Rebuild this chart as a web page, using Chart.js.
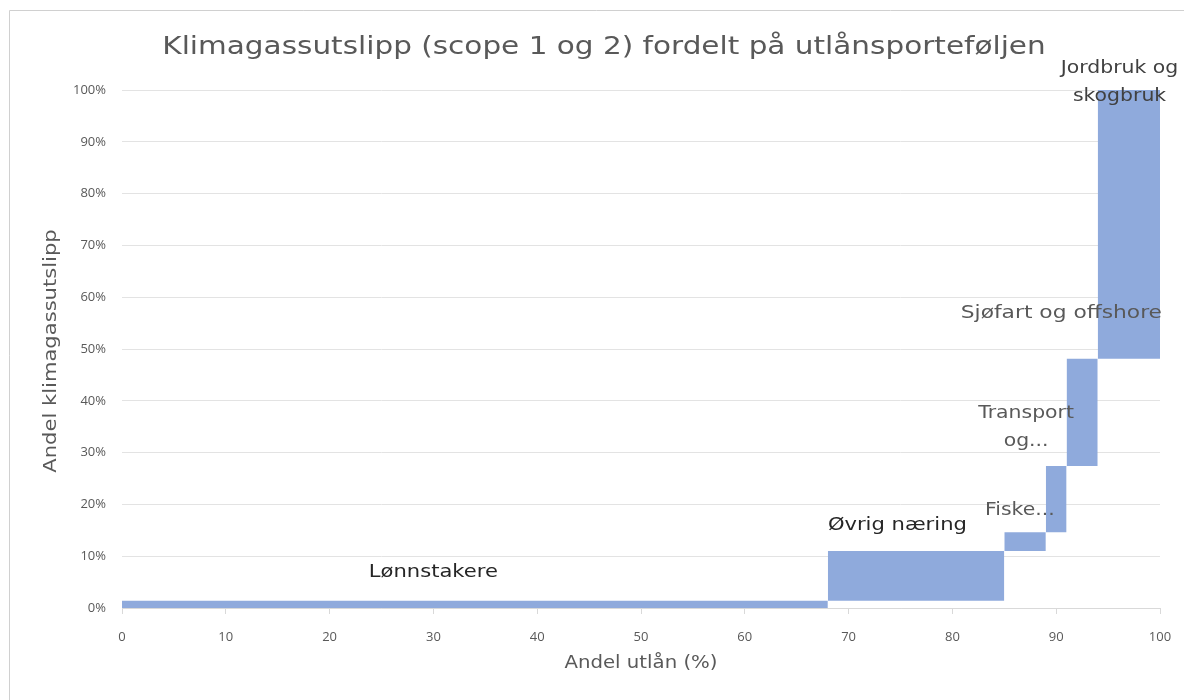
<!DOCTYPE html>
<html>
<head>
<meta charset="utf-8">
<script src="https://cdn.jsdelivr.net/npm/chart.js@4/dist/chart.umd.min.js"></script>
<style>
  html, body { margin: 0; padding: 0; background: #fff; }
  #wrap { width: 1184px; height: 700px; position: relative; }
</style>
</head>
<body>
<div id="wrap"><canvas id="c" width="1184" height="700"></canvas></div>
<script>
// ---- Data ----
const categories = ['Lønnstakere', 'Øvrig næring', 'Fiske...', 'Transport og...', 'Sjøfart og offshore', 'Jordbruk og skogbruk'];
const loanShare = [68, 17, 4, 2, 3, 6];            // Andel utlån (%) – bar widths
const emissionShare = [1.4, 9.6, 3.6, 12.8, 20.7, 51.9]; // Andel klimagassutslipp (%) – bar heights
const xTicks = [0, 10, 20, 30, 40, 50, 60, 70, 80, 90, 100];
const yTicks = [0, 10, 20, 30, 40, 50, 60, 70, 80, 90, 100];

const titleText = 'Klimagassutslipp (scope 1 og 2) fordelt på utlånsporteføljen';
const xTitle = 'Andel utlån (%)';
const yTitle = 'Andel klimagassutslipp';

// label anchor (data coordinates) – placement only
const labelAnchors = [[30, 6.9], [74.7, 16.0], [86.5, 18.9], [87.1, 34.9], [90.5, 56.9], [96.1, 101.5]];
const labelColors = ['#262626', '#262626', '#595959', '#595959', '#595959', '#404040'];
const labelStretch = [1.24, 1.24, 1.2, 1.2, 1.28, 1.2];

// ---- Build datasets ----
const barColor = '#8faadc';
const datasets = [];
let cx = 0, cy = 0;
loanShare.forEach((w, i) => {
  const x0 = cx, x1 = cx + w, lo = cy, hi = cy + emissionShare[i];
  datasets.push({
    label: categories[i] + ' (bunn)',
    data: [{x: x0, y: lo}, {x: x1, y: lo}],
    borderWidth: 0, pointRadius: 0, fill: false, borderColor: 'rgba(0,0,0,0)'
  });
  datasets.push({
    label: categories[i],
    data: [{x: x0, y: hi}, {x: x1, y: hi}],
    borderWidth: 0, pointRadius: 0, fill: '-1', backgroundColor: barColor, borderColor: 'rgba(0,0,0,0)'
  });
  cx = x1; cy = hi;
});

const FONT_GEO = '"DejaVu Sans", sans-serif';
const FONT_TICK = '"Open Sans", sans-serif';

function wideText(ctx, text, x, y, sx) {
  ctx.save();
  ctx.translate(x, y);
  ctx.scale(sx, 1);
  ctx.fillText(text, 0, 0);
  ctx.restore();
}

const frameAndText = {
  id: 'frameAndText',
  beforeDraw(chart) {
    const ctx = chart.ctx;
    ctx.save();
    ctx.fillStyle = '#fff';
    ctx.fillRect(0, 0, chart.width, chart.height);
    ctx.strokeStyle = '#d0d0d0';
    ctx.lineWidth = 1;
    ctx.beginPath();
    ctx.moveTo(9.5, 700);
    ctx.lineTo(9.5, 10.5);
    ctx.lineTo(1184, 10.5);
    ctx.stroke();
    ctx.restore();
  },
  afterDraw(chart) {
    const ctx = chart.ctx;
    const xs = chart.scales.x, ys = chart.scales.y;
    ctx.save();
    // title
    ctx.fillStyle = '#595959';
    ctx.font = '25px ' + FONT_GEO;
    ctx.textAlign = 'center';
    ctx.textBaseline = 'middle';
    wideText(ctx, titleText, 604, 47, 1.18);
    // axis titles
    ctx.font = '17px ' + FONT_GEO;
    wideText(ctx, xTitle, (xs.left + xs.right) / 2, 664, 1.16);
    ctx.save();
    ctx.translate(52, (ys.top + ys.bottom) / 2 + 2);
    ctx.rotate(-Math.PI / 2);
    wideText(ctx, yTitle, 0, 0, 1.24);
    ctx.restore();
    // data labels
    ctx.font = '17px ' + FONT_GEO;
    categories.forEach((name, i) => {
      const [ax, ay] = labelAnchors[i];
      const px = xs.getPixelForValue(ax), py = ys.getPixelForValue(ay);
      ctx.fillStyle = labelColors[i];
      const parts = name === 'Transport og...' ? ['Transport', 'og...'] :
                    name === 'Jordbruk og skogbruk' ? ['Jordbruk og', 'skogbruk'] : [name];
      const lh = 28;
      parts.forEach((p, k) => {
        wideText(ctx, p, px, py + (k - (parts.length - 1) / 2) * lh, labelStretch[i]);
      });
    });
    ctx.restore();
  }
};

new Chart(document.getElementById('c'), {
  type: 'line',
  data: { datasets },
  plugins: [frameAndText],
  options: {
    responsive: false,
    animation: false,
    layout: { padding: { left: 0, right: 0, top: 90, bottom: 0 } },
    plugins: { legend: { display: false }, title: { display: false }, tooltip: { enabled: false } },
    elements: { line: { tension: 0 } },
    scales: {
      x: {
        type: 'linear', min: 0, max: 100,
        afterBuildTicks(s) { s.ticks = xTicks.map(v => ({value: v})); },
        afterFit(s) { s.height = 92; s.paddingRight = 24; },
        grid: { display: true, drawOnChartArea: false, drawTicks: true, tickLength: 6, color: '#d9d9d9' },
        border: { display: true, color: '#d9d9d9', width: 1 },
        ticks: { color: '#595959', font: { family: FONT_TICK, size: 13 }, padding: 15, maxRotation: 0 }
      },
      y: {
        min: 0, max: 100,
        afterBuildTicks(s) { s.ticks = yTicks.map(v => ({value: v})); },
        afterFit(s) { s.width = 122; },
        grid: { color: '#e3e3e3', drawTicks: false },
        border: { display: false },
        ticks: { color: '#595959', font: { family: FONT_TICK, size: 13 }, padding: 16, callback: v => v + '%' }
      }
    }
  }
});
</script>
</body>
</html>
